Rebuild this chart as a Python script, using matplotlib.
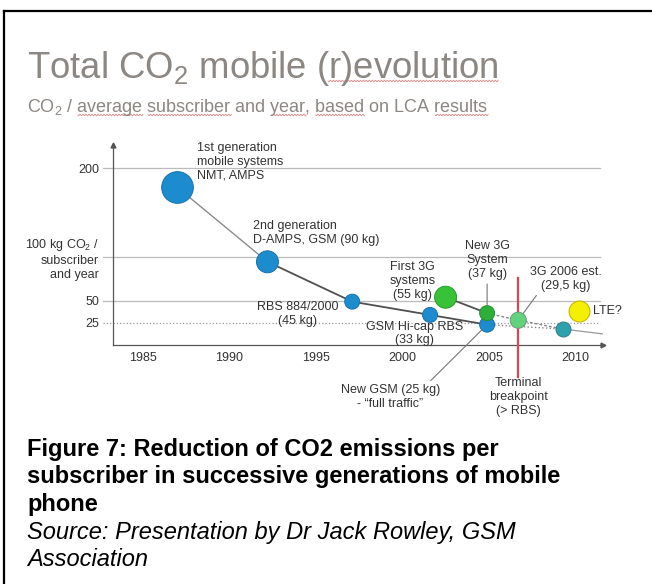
import numpy as np
import matplotlib
matplotlib.use("Agg")
import matplotlib.pyplot as plt
from matplotlib.lines import Line2D

plt.rcParams["font.family"] = ["Liberation Sans", "DejaVu Sans"]
plt.rcParams["mathtext.fontset"] = "custom"
plt.rcParams["mathtext.rm"] = "Liberation Sans"
plt.rcParams["mathtext.it"] = "Liberation Sans:italic"
plt.rcParams["mathtext.bf"] = "Liberation Sans:bold"

# data (kg CO2 per subscriber and year)
gsm_years = [1987.0, 1992.2, 1997.1, 2001.6, 2004.9]
gsm_co2 = [178, 94, 49, 34, 23]
umts_years = [2002.5, 2004.9, 2006.7]
umts_co2 = [54, 36, 28]
future_years = [2009.3, 2011.6]
future_co2 = [18, 12.5]
lte_year, lte_co2 = 2010.2, 38
terminal_year = 2006.7
x_ticks = [1985, 1990, 1995, 2000, 2005, 2010]
y_ticks = [200, 100, 50, 25]
y_ticklabels = ["200", "100 kg CO$_2$ /\nsubscriber\nand year", "50", "25"]

W, H = 652, 584
txt = "#333333"
blue = "#1d8ccf"

fig = plt.figure(figsize=(W / 100, H / 100), dpi=100)
ax = fig.add_axes([113 / W, 1 - 345 / H, 490 / W, 200 / H])
ax.set_xlim(1983.27, 2011.6)
ax.set_ylim(0, 226)
for s in ["top", "right"]:
    ax.spines[s].set_visible(False)
for s in ["left", "bottom"]:
    ax.spines[s].set_color("#555555")
    ax.spines[s].set_linewidth(0.9)
ax.plot(1, 0, ">", color="#555555", ms=3.5, transform=ax.transAxes, clip_on=False)
ax.plot(0, 1, "^", color="#555555", ms=3.5, transform=ax.transAxes, clip_on=False)

ax.set_xticks(x_ticks)
ax.set_xticklabels([str(x) for x in x_ticks])
ax.set_yticks(y_ticks)
ax.set_yticklabels(y_ticklabels)
ax.tick_params(axis="both", length=0, labelsize=9, labelcolor=txt)
ax.tick_params(axis="y", pad=10)
ax.tick_params(axis="x", pad=5)
for lab in ax.get_yticklabels():
    lab.set_multialignment("right")

# reference lines
for v in y_ticks:
    ls = ":" if v == 25 else "-"
    col = "#999999" if v == 25 else "#bbbbbb"
    ax.axhline(v, xmin=-10 / 490, xmax=1 - 3 / 490, color=col, lw=0.9, ls=ls,
               clip_on=False, zorder=1)

# connecting lines
ax.plot(gsm_years[:2], gsm_co2[:2], color="#8a8a8a", lw=1.0, zorder=2)
ax.plot(gsm_years[1:], gsm_co2[1:], color="#505050", lw=1.3, zorder=2)
ax.plot(umts_years[:2], umts_co2[:2], color="#505050", lw=1.3, zorder=2)
ax.plot([gsm_years[-1], future_years[0]], [gsm_co2[-1], future_co2[0]],
        color="#888888", lw=1.0, ls=":", zorder=2)
ax.plot(umts_years[1:] + future_years[:1], umts_co2[1:] + future_co2[:1],
        color="#888888", lw=1.0, ls=(0, (2, 1.5)), zorder=2)
ax.plot(future_years, future_co2, color="#999999", lw=0.9, zorder=2)

# terminal breakpoint
ax.axvline(terminal_year, ymin=-0.16, ymax=0.335, color="#e0454f", lw=1.6,
           clip_on=False, zorder=3)

# bubbles
gsm_sizes = [520, 250, 116, 116, 116]
ax.scatter(gsm_years, gsm_co2, s=gsm_sizes, color=blue, edgecolor="#1672ad",
           lw=0.7, zorder=4)
umts_sizes = [250, 116, 135]
umts_colors = ["#38c238", "#2cb03a", "#62d27c"]
ax.scatter(umts_years, umts_co2, s=umts_sizes, color=umts_colors,
           edgecolor=["#2a9a2a", "#22902e", "#6a9a7a"], lw=0.7, zorder=4)
ax.scatter(future_years[:1], future_co2[:1], s=116, color="#2fa0ae",
           edgecolor="#2a7f8a", lw=0.7, zorder=4)
ax.scatter([lte_year], [lte_co2], s=225, color="#f4ef00", edgecolor="#c9b800",
           lw=0.8, zorder=4)

# labels
kw = dict(fontsize=9, color=txt, linespacing=1.2, zorder=5)
ax.text(1988.1, 207, "1st generation\nmobile systems\nNMT, AMPS", ha="left", va="center", **kw)
ax.text(1991.35, 127, "2nd generation\nD-AMPS, GSM (90 kg)", ha="left", va="center", **kw)
ax.text(1993.95, 35, "RBS 884/2000\n(45 kg)", ha="center", va="center", **kw)
ax.text(2000.7, 13, "GSM Hi-cap RBS\n(33 kg)", ha="center", va="center", **kw)
ax.text(2000.6, 72, "First 3G\nsystems\n(55 kg)", ha="center", va="center", **kw)
ax.text(2011.0, lte_co2, "LTE?", ha="left", va="center", **kw)
ax.text(terminal_year, -59, "Terminal\nbreakpoint\n(> RBS)", ha="center", va="center", **kw)
lead = dict(arrowstyle="-", color="#777777", lw=0.8, shrinkA=1)
ax.annotate("New 3G\nSystem\n(37 kg)", xy=(umts_years[1], umts_co2[1]),
            xytext=(2004.9, 96), ha="center", va="center",
            arrowprops=dict(relpos=(0.5, 0), shrinkB=6, **lead), **kw)
ax.annotate("3G 2006 est.\n(29,5 kg)", xy=(umts_years[2], umts_co2[2]),
            xytext=(2009.45, 75), ha="center", va="center",
            arrowprops=dict(relpos=(0.13, 0), shrinkB=6, **lead), **kw)
ax.annotate("New GSM (25 kg)\n- \u201cfull traffic\u201d", xy=(gsm_years[-1], gsm_co2[-1]),
            xytext=(1999.3, -59), ha="center", va="center", annotation_clip=False,
            arrowprops=dict(relpos=(0.87, 1), shrinkB=5, **lead), **kw)

# slide title
grey = "#8c8782"
title = "Total CO$_2$ mobile (r)evolution"
subtitle = "CO$_2$ / average subscriber and year, based on LCA results"
t_kw = dict(fontsize=26.3, color=grey, va="baseline")
s_kw = dict(fontsize=13, color=grey, va="baseline")
fig.text(27 / W, 1 - 78 / H, title, **t_kw)
fig.text(27 / W, 1 - 112 / H, subtitle, **s_kw)

# red spell-check squiggles under some words of the slide title
renderer = fig.canvas.get_renderer()


def text_width(s, props):
    t = fig.text(0, 0, s, **props)
    w = t.get_window_extent(renderer).width
    t.remove()
    return w


def squiggle(full, word, base_y, props):
    i = full.index(word)
    x1 = 27 + text_width(full[:i] + word, props)
    x0 = x1 - text_width(word, props)
    xs = np.arange(x0, x1, 0.5)
    ys = base_y + 3 + 0.8 * np.sin((xs - x0) * np.pi / 1.5)
    fig.add_artist(Line2D(xs / W, 1 - ys / H, color="#d26a6a", lw=0.6, alpha=0.8))


squiggle(title, "r)evolution", 78, t_kw)
for w in ["average", "subscriber", "year", "based", "results"]:
    squiggle(subtitle, w, 112, s_kw)

# caption
cap = ["Figure 7: Reduction of CO2 emissions per",
       "subscriber in successive generations of mobile",
       "phone"]
src = ["Source: Presentation by Dr Jack Rowley, GSM", "Association"]
base = [456, 483.5, 511, 538.5, 566]
for i, line in enumerate(cap):
    fig.text(27 / W, 1 - base[i] / H, line, fontsize=17, fontweight="bold",
             color="black", va="baseline")
for j, line in enumerate(src):
    fig.text(27 / W, 1 - base[3 + j] / H, line, fontsize=17, style="italic",
             color="black", va="baseline")

# frame of the pasted slide
fig.add_artist(Line2D([4 / W, 1], [1 - 11 / H, 1 - 11 / H], color="black", lw=1.6))
fig.add_artist(Line2D([4 / W, 4 / W], [0, 1 - 11 / H], color="black", lw=1.6))

fig.savefig("out.png", dpi=100)
